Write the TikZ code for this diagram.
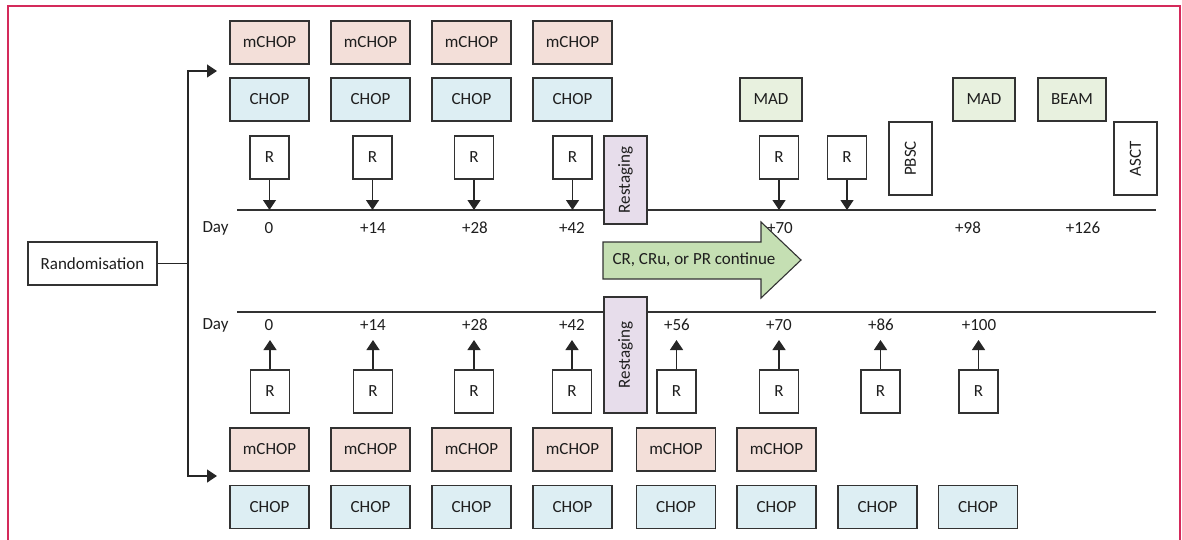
\documentclass[tikz,border=0pt]{standalone}
\usepackage{fontspec}
\setmainfont{Carlito}
\usetikzlibrary{arrows.meta}
\definecolor{frame}{RGB}{212,42,91}
\definecolor{bord}{RGB}{50,50,50}
\definecolor{mfill}{RGB}{243,223,217}
\definecolor{cfill}{RGB}{221,238,243}
\definecolor{gfill}{RGB}{232,241,223}
\definecolor{rfill}{RGB}{231,221,235}
\definecolor{afill}{RGB}{197,223,179}
\definecolor{txt}{RGB}{30,30,30}
\tikzset{
  basebox/.style={draw=bord, line width=1.2pt, inner sep=0pt, text=txt, font=\fontsize{17}{20}\selectfont},
  mbox/.style={basebox, fill=mfill, minimum width=79pt, minimum height=43pt},
  cbox/.style={basebox, fill=cfill, minimum width=79pt, minimum height=43pt},
  gbox/.style={basebox, fill=gfill, minimum height=43pt},
  rbox/.style={basebox, fill=white, minimum width=39pt, minimum height=43pt},
  vbox/.style={basebox, rotate=90, minimum height=43pt},
  daylbl/.style={text=txt, font=\fontsize{17}{20}\selectfont, inner sep=0pt},
  arr/.style={draw=black!85, line width=1.3pt, -{Triangle[length=10pt,width=13pt]}},
  tline/.style={draw=bord, line width=1.5pt},
}
\begin{document}
\begin{tikzpicture}[x=1pt,y=-1pt]
\useasboundingbox (0,0) rectangle (1182,540);
% frame
\draw[frame, line width=1.6pt] (8,540) -- (8,6) -- (1180,6) -- (1180,540);

% randomisation
\node[basebox, fill=white, minimum width=129pt, minimum height=43pt] (rand) at (92.5,263.5) {Randomisation};
\coordinate (split) at (188,263.5);
\coordinate (topend) at (217,71);
\coordinate (botend) at (217,476);
\draw[arr] (rand.east) -- (split) |- (topend);
\draw[arr] (split) |- (botend);

% ---------- top arm ----------
\coordinate (tlA) at (237,210);
\coordinate (tlB) at (1156,210);
\draw[tline] (tlA) -- (tlB);

\foreach \i/\x in {1/269.5,2/370.5,3/471.5,4/572.5}{
  \node[mbox] (tm\i) at (\x,42.5) {mCHOP};
  \node[cbox] (tc\i) at (\x,99.5) {CHOP};
}
\node[gbox, minimum width=62pt] (mad1) at (771,99.5) {MAD};
\node[gbox, minimum width=62pt] (mad2) at (984,99.5) {MAD};
\node[gbox, minimum width=68pt] (beam) at (1072,99.5) {BEAM};
\node[vbox, fill=white, minimum width=73pt] (pbsc) at (910.5,158.5) {PBSC};
\node[vbox, fill=white, minimum width=73pt] (asct) at (1135.5,158.5) {ASCT};
\node[vbox, fill=rfill, minimum width=88pt] (rsTop) at (625.5,180) {Restaging};

\foreach \i/\x in {1/269.5,2/372.5,3/474,4/572.5,5/779,6/847}{
  \node[rbox] (rt\i) at (\x,157.5) {R};
  \coordinate (tt\i) at (\x,210);
  \draw[arr] (rt\i.south) -- (tt\i);
}
\node[daylbl] (dayT) at (215.5,228) {Day};
\foreach \i/\x/\t in {1/269/0,2/373/+14,3/475/+28,4/572/+42,5/780/+70,6/968/+98,7/1083/+126}{
  \node[daylbl] (lt\i) at (\x,228) {\t};
}

% green arrow
\draw[draw=bord, line width=1.1pt, fill=afill]
  (603,242) -- (761,242) -- (761,222) -- (801,260) -- (761,298) -- (761,279) -- (603,279) -- cycle;
\node[daylbl] (cont) at (694,260) {CR, CRu, or PR continue};

% ---------- bottom arm ----------
\coordinate (blA) at (237,312);
\coordinate (blB) at (1156,312);
\draw[tline] (blA) -- (blB);

\node[vbox, fill=rfill, minimum width=116pt] (rsBot) at (625.5,355) {Restaging};

\foreach \i/\x in {1/269.5,2/370.5,3/471.5,4/572.5,5/676,6/776.5}{
  \node[mbox] (bm\i) at (\x,449.5) {mCHOP};
}
\foreach \i/\x in {1/269.5,2/370.5,3/471.5,4/572.5,5/676,6/776.5,7/877.5,8/978}{
  \node[cbox] (bc\i) at (\x,507) {CHOP};
}
\foreach \i/\x in {1/270,2/373,3/474,4/572,5/676.5,6/779,7/880.5,8/978.5}{
  \node[rbox] (rb\i) at (\x,391.5) {R};
  \coordinate (bt\i) at (\x,340);
  \draw[arr] (rb\i.north) -- (bt\i);
}
\node[daylbl] (dayB) at (215.5,325) {Day};
\foreach \i/\x/\t in {1/269/0,2/373/+14,3/475/+28,4/572/+42,5/677/+56,6/779/+70,7/881/+86,8/979/+100}{
  \node[daylbl] (lb\i) at (\x,325) {\t};
}
\end{tikzpicture}
\end{document}
